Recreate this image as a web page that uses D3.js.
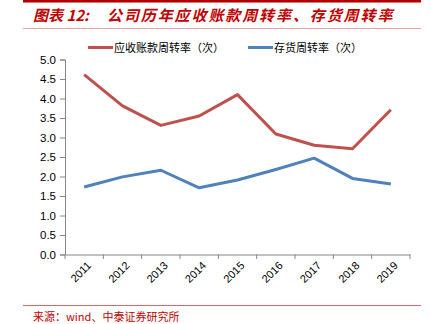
<!DOCTYPE html>
<html><head><meta charset="utf-8">
<script src="https://cdn.jsdelivr.net/npm/d3@7"></script>
<style>body{margin:0;background:#fff}svg{display:block}</style>
</head><body><svg id="c" width="431" height="324"></svg>
<script>
const years = ["2011","2012","2013","2014","2015","2016","2017","2018","2019"];
const receivableTurnover = [4.61,3.81,3.31,3.55,4.10,3.09,2.80,2.71,3.71];
const inventoryTurnover = [1.73,1.99,2.16,1.71,1.91,2.18,2.47,1.95,1.81];
const yTicks = [0,0.5,1,1.5,2,2.5,3,3.5,4,4.5,5];
const seriesNames = ["应收账款周转率（次）","存货周转率（次）"];
const colors = ["#C0504D","#4F81BD"];

const svg = d3.select("#c");
const cjk = "'Noto Sans CJK SC', sans-serif";
// header
svg.append("rect").attr("x",23).attr("y",0).attr("width",398).attr("height",2.5).attr("fill","#B00000");
svg.append("text").attr("x",33).attr("y",21).attr("fill","#C00000")
  .attr("font-family",cjk).attr("font-size",15).attr("font-weight","bold").attr("font-style","italic")
  .text("图表 12:");
svg.append("text").attr("x",107).attr("y",21).attr("fill","#C00000")
  .attr("font-family",cjk).attr("font-size",15).attr("font-weight","bold").attr("font-style","italic")
  .attr("letter-spacing",1.9)
  .text("公司历年应收账款周转率、存货周转率");
svg.append("line").attr("x1",23).attr("x2",421).attr("y1",28.5).attr("y2",28.5).attr("stroke","#E8A3A3").attr("stroke-width",1);

const x = d3.scaleBand().domain(years).range([65,410]);
const y = d3.scaleLinear().domain([0,5]).range([254.5,59.5]);

const yAxis = svg.append("g").attr("transform","translate(65,0)")
  .call(d3.axisLeft(y).tickValues(yTicks).tickFormat(d3.format(".1f")).tickSizeOuter(0).tickSize(5));
yAxis.select(".domain").attr("stroke","#868686");
yAxis.selectAll(".tick line").attr("stroke","#868686");
yAxis.selectAll("text").attr("font-family","'Liberation Sans', Arial, sans-serif").attr("font-size",11.5).attr("fill","#000").attr("dx",-1);

const xAxis = svg.append("g").attr("transform","translate(0,254.5)")
  .call(d3.axisBottom(x).tickSize(0).tickSizeOuter(0));
xAxis.select(".domain").attr("stroke","#868686");
xAxis.selectAll(".tick text").attr("font-family","'Liberation Sans', Arial, sans-serif").attr("font-size",11).attr("fill","#000")
  .attr("text-anchor","end").attr("transform","translate(5,9) rotate(-45)").attr("dy","0.35em").attr("y",0);
// boundary ticks
const bounds = years.map(d=>x(d)).concat([x.range()[1]]);
svg.append("g").selectAll("line").data(bounds).join("line")
  .attr("x1",d=>d).attr("x2",d=>d).attr("y1",254.5).attr("y2",259).attr("stroke","#868686");

const line = d3.line().x((d,i)=>x(years[i])+x.bandwidth()/2).y(d=>y(d));
[receivableTurnover, inventoryTurnover].forEach((s,i)=>{
  svg.append("path").attr("d",line(s)).attr("fill","none").attr("stroke",colors[i]).attr("stroke-width",3).attr("stroke-linejoin","round");
});

// legend
const lg = [{x:88},{x:248}];
seriesNames.forEach((n,i)=>{
  svg.append("line").attr("x1",lg[i].x).attr("x2",lg[i].x+25).attr("y1",47.5).attr("y2",47.5).attr("stroke",colors[i]).attr("stroke-width",3);
  svg.append("text").attr("x",lg[i].x+26).attr("y",51.5).attr("font-family",cjk).attr("font-size",11).attr("fill","#000").text(n);
});

// footer
svg.append("line").attr("x1",23).attr("x2",421).attr("y1",305.5).attr("y2",305.5).attr("stroke","#E06666").attr("stroke-width",1);
svg.append("text").attr("x",33).attr("y",321).attr("fill","#C00000").attr("font-family","'Noto Sans CJK SC', 'DejaVu Sans Mono', monospace")
  .attr("font-size",11).text("来源：wind、中泰证券研究所");
</script></body></html>
